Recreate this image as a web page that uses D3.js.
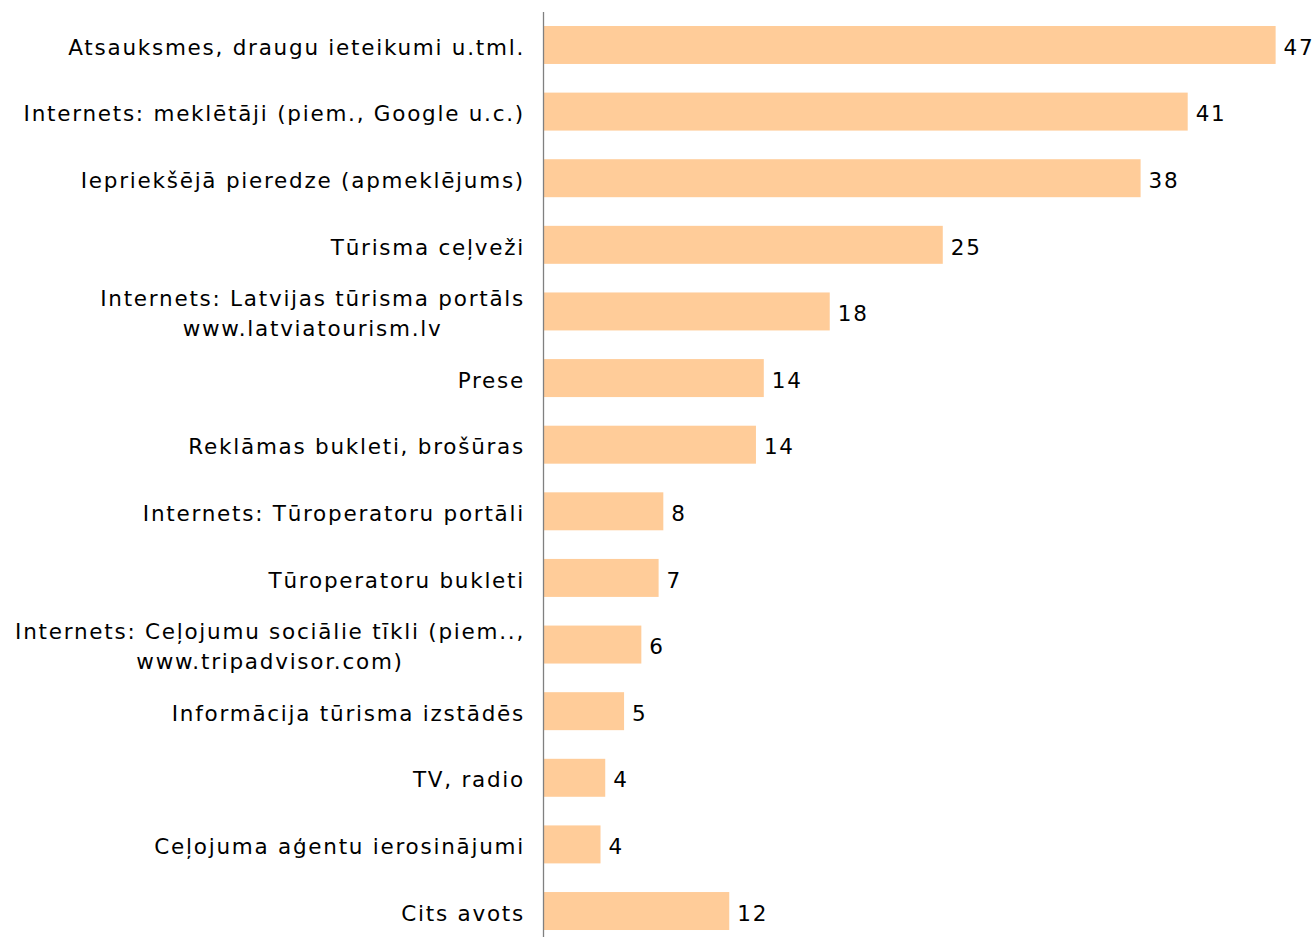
<!DOCTYPE html>
<html>
<head>
<meta charset="utf-8">
<script src="https://cdn.jsdelivr.net/npm/d3@7"></script>
<style>
  body { margin: 0; background: #fff; }
  text { font-family: "DejaVu Sans", Verdana, sans-serif; fill: #000; letter-spacing: 1.75px; }
</style>
</head>
<body>
<div id="chart"></div>
<script>
// categories (each entry may hold two lines)
var categories = [
  ["Atsauksmes, draugu ieteikumi u.tml."],
  ["Internets: meklētāji (piem., Google u.c.)"],
  ["Iepriekšējā pieredze (apmeklējums)"],
  ["Tūrisma ceļveži"],
  ["Internets: Latvijas tūrisma portāls", "www.latviatourism.lv"],
  ["Prese"],
  ["Reklāmas bukleti, brošūras"],
  ["Internets: Tūroperatoru portāli"],
  ["Tūroperatoru bukleti"],
  ["Internets: Ceļojumu sociālie tīkli (piem..,", "www.tripadvisor.com)"],
  ["Informācija tūrisma izstādēs"],
  ["TV, radio"],
  ["Ceļojuma aģentu ierosinājumi"],
  ["Cits avots"]
];
var values = [46.6, 41.0, 38.0, 25.4, 18.2, 14.0, 13.5, 7.6, 7.3, 6.2, 5.1, 3.9, 3.6, 11.8];
var valueLabels = ["47", "41", "38", "25", "18", "14", "14", "8", "7", "6", "5", "4", "4", "12"];

var W = 1316, H = 937;
var margin = {left: 544, top: 12, bottom: 937};
var fontSize = "21.5px";

var svg = d3.select("#chart").append("svg")
    .attr("width", W)
    .attr("height", H);

var x = d3.scaleLinear()
    .domain([0, 50])
    .range([margin.left, margin.left + 785]);

// band step ~66.6px, bars ~38px tall
var y = d3.scaleBand()
    .domain(d3.range(categories.length))
    .range([margin.top, margin.top + 932])
    .paddingInner(0.43)
    .paddingOuter(0.21);

var data = values.map(function(v, i) {
  return {lines: categories[i], value: v, label: valueLabels[i], i: i};
});

svg.selectAll(".bar")
    .data(data)
  .enter().append("rect")
    .attr("class", "bar")
    .attr("x", x(0))
    .attr("y", function(d) { return y(d.i); })
    .attr("width", function(d) { return x(d.value) - x(0); })
    .attr("height", y.bandwidth())
    .style("fill", "#ffcc99");

// value labels
svg.selectAll(".val")
    .data(data)
  .enter().append("text")
    .attr("class", "val")
    .attr("x", function(d) { return x(d.value) + 8; })
    .attr("y", function(d) { return y(d.i) + y.bandwidth() / 2; })
    .attr("dy", "0.45em")
    .style("font-size", fontSize)
    .text(function(d) { return d.label; });

// category labels, multi-line ones centred on each other
var labelRight = 525;
var cat = svg.selectAll(".cat")
    .data(data)
  .enter().append("text")
    .attr("class", "cat")
    .style("font-size", fontSize);

cat.each(function(d) {
  var t = d3.select(this);
  var cy = y(d.i) + y.bandwidth() / 2;
  if (d.lines.length == 1) {
    t.attr("x", labelRight).attr("y", cy).attr("dy", "0.45em")
      .attr("text-anchor", "end").text(d.lines[0]);
  } else {
    t.attr("text-anchor", "middle");
    var spans = d.lines.map(function(l, k) {
      return t.append("tspan").attr("y", cy + (k - 0.5) * 30).attr("dy", "0.45em").text(l);
    });
    var maxW = d3.max(spans, function(s) { return s.node().getComputedTextLength(); });
    spans.forEach(function(s) { s.attr("x", labelRight - maxW / 2); });
  }
});

// vertical axis line
svg.append("line")
    .attr("x1", margin.left - 0.5).attr("x2", margin.left - 0.5)
    .attr("y1", margin.top).attr("y2", margin.bottom)
    .style("stroke", "#808080")
    .style("stroke-width", 1.3);
</script>
</body>
</html>
